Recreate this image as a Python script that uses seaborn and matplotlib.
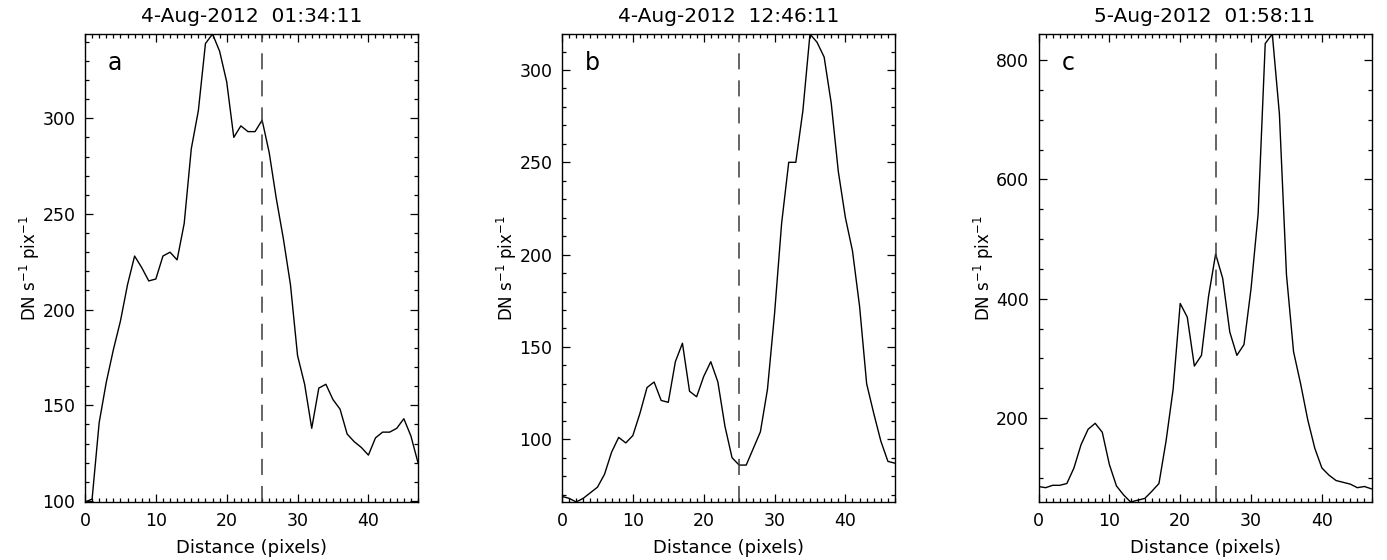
import numpy as np
import pandas as pd
import matplotlib
matplotlib.use("Agg")
import matplotlib.pyplot as plt
from matplotlib.ticker import MultipleLocator
import seaborn as sns

# ---- data ----
distance = list(range(48))
profile_a = [99.5, 101, 141, 162, 179, 194, 213, 228, 222, 215, 216, 228, 230, 226, 245, 284,
             304, 339, 344, 335, 319, 290, 296, 293, 293, 299, 282, 258, 237, 213, 176, 161,
             138, 159, 161, 153, 148, 135, 131, 128, 124, 133, 136, 136, 138, 143, 134, 120]
profile_b = [69, 68, 66, 68, 71, 74, 81, 93, 101, 98, 102, 114, 128, 131, 121, 120,
             142, 152, 126, 123, 134, 142, 131, 107, 90, 86, 86, 95, 104, 127, 168, 217,
             250, 250, 278, 319.5, 315, 307, 282, 245, 220, 202, 172, 130, 114, 99, 88, 87]
profile_c = [85, 83, 87, 87, 90, 116, 155, 181, 191, 176, 122, 86, 71, 59, 62, 65,
             77, 90, 161, 248, 392, 369, 287, 305, 404, 475, 434, 344, 305, 323, 417, 542,
             828, 844, 710, 440, 311, 257, 197, 149, 116, 104, 95, 92, 89, 83, 85, 81]
titles = ["4-Aug-2012  01:34:11", "4-Aug-2012  12:46:11", "5-Aug-2012  01:58:11"]
panel_labels = ["a", "b", "c"]
marker_position = 25
y_major = [50, 50, 200]
y_minor = [10, 10, 50]

sns.set_style("ticks")
plt.rcParams["font.family"] = ["DejaVu Sans"]
plt.rcParams.update({
    "axes.linewidth": 1.0,
    "axes.edgecolor": "black",
    "text.color": "black",
    "axes.labelcolor": "black",
    "xtick.color": "black",
    "ytick.color": "black",
})

W, H = 1387, 560
fig = plt.figure(figsize=(W / 100, H / 100), dpi=100)
lefts = [85, 562, 1038.5]
profiles = [profile_a, profile_b, profile_c]

for i, (left, prof) in enumerate(zip(lefts, profiles)):
    ax = fig.add_axes([left / W, (H - 502) / H, 333 / W, 468 / H])
    df = pd.DataFrame({"Distance": distance, "Intensity": prof})
    sns.lineplot(data=df, x="Distance", y="Intensity", ax=ax, color="black", linewidth=1.0)
    ax.set_xlim(0, 47)
    ax.set_ylim(min(prof), max(prof))
    ax.axvline(marker_position, color="#3a3a3a", linestyle=(0, (10.5, 7.2)), linewidth=1.1)
    ax.xaxis.set_major_locator(MultipleLocator(10))
    ax.xaxis.set_minor_locator(MultipleLocator(1))
    ax.yaxis.set_major_locator(MultipleLocator(y_major[i]))
    ax.yaxis.set_minor_locator(MultipleLocator(y_minor[i]))
    ax.tick_params(which="both", direction="in", top=True, right=True, width=0.9,
                   labelsize=12.5, pad=7, colors="black")
    ax.tick_params(which="major", length=6)
    ax.tick_params(which="minor", length=3)
    ax.set_title(titles[i], fontsize=14.5, pad=9, color="black")
    ax.set_xlabel("Distance (pixels)", fontsize=13, labelpad=7, color="black")
    ax.set_ylabel("DN s$^{-1}$ pix$^{-1}$", fontsize=12, labelpad=0, color="black")
    ax.text(0.09, 0.938, panel_labels[i], transform=ax.transAxes, fontsize=17,
            ha="center", va="center", color="black")

fig.savefig("out.png", dpi=100)
